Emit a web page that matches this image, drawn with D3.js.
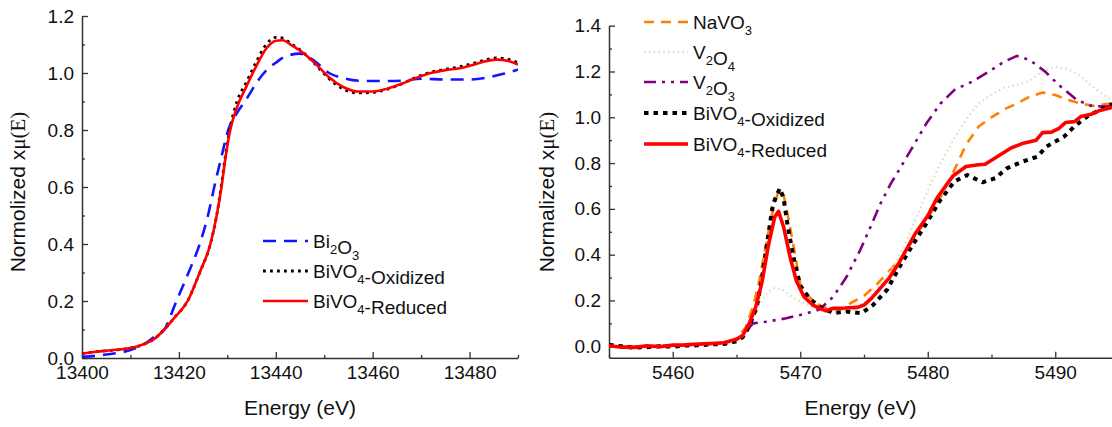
<!DOCTYPE html>
<html>
<head>
<meta charset="utf-8">
<script src="https://cdn.jsdelivr.net/npm/d3@7"></script>
<style>
  html, body { margin: 0; padding: 0; background: #fff; }
  svg { display: block; }
  text { font-family: "Liberation Sans", Arial, sans-serif; fill: #111; }
</style>
</head>
<body>
<svg id="chart" width="1112" height="427"></svg>
<script>
// ---------- Bi L3-edge (left panel) ----------
const biRefE  = [13400, 13405, 13410, 13413, 13415, 13417, 13419.5, 13422, 13424.3, 13426, 13427.3, 13428.7, 13430.2, 13432, 13434, 13436, 13438, 13440, 13442, 13445, 13448, 13451, 13454, 13458, 13462, 13466, 13470, 13475, 13480, 13484, 13487, 13490];
const biRefMu = [0.004, 0.012, 0.028, 0.05, 0.075, 0.1, 0.2, 0.3, 0.4, 0.5, 0.6, 0.7, 0.8, 0.86, 0.91, 0.965, 1.008, 1.036, 1.058, 1.068, 1.042, 1.0, 0.982, 0.972, 0.972, 0.973, 0.98, 0.977, 0.977, 0.985, 0.997, 1.012];

const biRedE  = [13400, 13403, 13406, 13410, 13413, 13415, 13417, 13419, 13421.8, 13424.3, 13426.5, 13427.8, 13428.8, 13429.6, 13430.6, 13432, 13434, 13436, 13438, 13440, 13441.5, 13443, 13446, 13449, 13451, 13454, 13457, 13460, 13463, 13466, 13469, 13472, 13475, 13478, 13481, 13483, 13485.5, 13488, 13490];
const biRedMu = [0.015, 0.022, 0.027, 0.035, 0.05, 0.068, 0.1, 0.14, 0.2, 0.3, 0.4, 0.5, 0.6, 0.7, 0.8, 0.88, 0.955, 1.025, 1.085, 1.113, 1.115, 1.1, 1.066, 1.019, 0.985, 0.95, 0.935, 0.935, 0.945, 0.962, 0.983, 1.0, 1.01, 1.017, 1.03, 1.04, 1.047, 1.042, 1.03];

const biOxE  = biRedE;
const biOxMu = [0.015, 0.022, 0.027, 0.035, 0.05, 0.068, 0.1, 0.14, 0.2, 0.3, 0.4, 0.5, 0.61, 0.71, 0.81, 0.9, 0.97, 1.04, 1.1, 1.125, 1.122, 1.105, 1.067, 1.015, 0.98, 0.943, 0.93, 0.932, 0.943, 0.962, 0.985, 1.003, 1.013, 1.022, 1.035, 1.045, 1.053, 1.048, 1.035];

const biXTicks = [13400, 13420, 13440, 13460, 13480];
const biYTicks = [0.0, 0.2, 0.4, 0.6, 0.8, 1.0, 1.2];

// ---------- V K-edge (right panel) ----------
const vRedE  = [5455, 5456, 5457, 5458, 5459, 5460, 5461, 5462, 5463, 5464, 5465, 5465.5, 5466, 5466.5, 5467, 5467.5, 5468, 5468.3, 5468.7, 5469.2, 5469.7, 5470.3, 5471, 5471.6, 5472, 5472.6, 5473.5, 5474.5, 5475, 5475.6, 5476.3, 5477, 5477.7, 5478.4, 5479, 5480, 5480.7, 5481.4, 5482, 5483, 5484, 5484.5, 5485.5, 5486.5, 5487.5, 5488.5, 5489, 5489.7, 5490.3, 5490.8, 5491.5, 5492, 5492.8, 5493.5, 5494.5, 5495];
const vRedMu = [0.002, -0.004, -0.005, 0.002, -0.002, 0.005, 0.006, 0.01, 0.012, 0.015, 0.03, 0.048, 0.1, 0.17, 0.28, 0.44, 0.565, 0.589, 0.52, 0.39, 0.285, 0.215, 0.18, 0.163, 0.155, 0.166, 0.167, 0.17, 0.18, 0.21, 0.255, 0.3, 0.36, 0.43, 0.49, 0.57, 0.645, 0.7, 0.745, 0.785, 0.793, 0.795, 0.83, 0.865, 0.887, 0.9, 0.933, 0.935, 0.952, 0.977, 0.981, 1.003, 1.013, 1.03, 1.044, 1.05];

const vOxE  = [5455, 5456, 5457, 5458, 5459, 5460, 5461, 5462, 5463, 5464, 5465, 5465.5, 5466, 5466.6, 5467, 5467.4, 5467.8, 5468.0, 5468.4, 5468.7, 5469, 5469.5, 5470, 5470.7, 5471.5, 5472.6, 5473.6, 5474.8, 5475.7, 5476.8, 5477.8, 5478.9, 5479.9, 5481, 5482.1, 5483.1, 5484.3, 5485.3, 5486.2, 5487.4, 5488.6, 5489.3, 5490, 5490.7, 5491.5, 5492.5, 5493.5, 5494.3, 5495];
const vOxMu = [0.006, 0.0, -0.006, -0.004, 0.0, -0.002, 0.003, 0.004, 0.008, 0.01, 0.022, 0.04, 0.087, 0.173, 0.3, 0.45, 0.6, 0.64, 0.69, 0.645, 0.53, 0.38, 0.265, 0.21, 0.173, 0.145, 0.152, 0.144, 0.18, 0.246, 0.348, 0.45, 0.537, 0.64, 0.72, 0.748, 0.716, 0.734, 0.777, 0.806, 0.828, 0.872, 0.894, 0.916, 0.96, 1.003, 1.032, 1.054, 1.06];

const naVO3E  = [5455, 5457, 5459, 5461, 5463, 5464, 5465, 5465.7, 5466.3, 5466.8, 5467.3, 5467.8, 5468.3, 5468.7, 5469.1, 5469.5, 5470, 5470.5, 5471.1, 5471.7, 5472.5, 5473.3, 5474, 5475, 5476, 5477, 5478, 5479, 5480, 5481, 5482, 5483, 5484, 5485, 5486, 5487, 5488, 5489, 5490, 5491, 5492, 5493, 5494, 5495];
const naVO3Mu = [0.0, -0.004, 0.0, 0.005, 0.01, 0.015, 0.035, 0.08, 0.173, 0.29, 0.44, 0.58, 0.68, 0.66, 0.55, 0.43, 0.27, 0.225, 0.195, 0.173, 0.16, 0.162, 0.19, 0.22, 0.27, 0.33, 0.39, 0.48, 0.56, 0.65, 0.76, 0.88, 0.96, 1.0, 1.035, 1.06, 1.09, 1.108, 1.097, 1.076, 1.06, 1.05, 1.058, 1.065];

const v2O4E  = [5455, 5458, 5461, 5463, 5464, 5465, 5465.5, 5466, 5466.5, 5467, 5467.5, 5468, 5468.5, 5469, 5469.5, 5470, 5471, 5472, 5473, 5474, 5475, 5476, 5477, 5478, 5479, 5480, 5481, 5482, 5483, 5484, 5485, 5486, 5487, 5488, 5489, 5490, 5491, 5492, 5493, 5494, 5495];
const v2O4Mu = [0.0, 0.0, 0.005, 0.01, 0.015, 0.03, 0.05, 0.09, 0.14, 0.2, 0.24, 0.255, 0.25, 0.23, 0.21, 0.195, 0.17, 0.155, 0.145, 0.15, 0.19, 0.25, 0.32, 0.42, 0.55, 0.68, 0.8, 0.9, 0.99, 1.06, 1.1, 1.13, 1.14, 1.16, 1.2, 1.22, 1.21, 1.18, 1.13, 1.09, 1.06];

const v2O3E  = [5455, 5458, 5461, 5463, 5464, 5465, 5465.5, 5466.3, 5467.3, 5468.9, 5470.5, 5471.5, 5472.6, 5473.6, 5474.7, 5475.5, 5476.3, 5477.1, 5477.9, 5478.6, 5479.9, 5481, 5482.1, 5483.5, 5485, 5486, 5487, 5488, 5489.2, 5490.3, 5491.7, 5492.8, 5493.9, 5495];
const v2O3Mu = [0.0, 0.0, 0.005, 0.01, 0.015, 0.03, 0.05, 0.10, 0.107, 0.122, 0.144, 0.16, 0.217, 0.30, 0.42, 0.52, 0.624, 0.71, 0.784, 0.85, 0.974, 1.06, 1.12, 1.156, 1.207, 1.243, 1.268, 1.25, 1.2, 1.14, 1.076, 1.05, 1.047, 1.05];

const vXTicks = [5460, 5470, 5480, 5490];
const vYTicks = [0.0, 0.2, 0.4, 0.6, 0.8, 1.0, 1.2, 1.4];

// ---------- drawing ----------
const svg = d3.select("#chart");
const fmt = d3.format(".1f");
const axisColor = "#333";

const zip = (E, M) => E.map((e, i) => [e, M[i]]);

function styleAxis(g) {
  g.selectAll(".domain").attr("stroke", axisColor).attr("stroke-width", 1.5);
  g.selectAll(".tick line").attr("stroke", axisColor).attr("stroke-width", 1.3);
  g.selectAll("text").attr("font-size", 19).attr("fill", "#111")
    .attr("font-family", '"Liberation Sans", Arial, sans-serif');
}

function drawPanel(p) {
  const x = d3.scaleLinear().domain(p.xDomain).range(p.xRange);
  const y = d3.scaleLinear().domain(p.yDomain).range(p.yRange);
  const root = svg.append("g");

  const clipId = p.id + "-clip";
  svg.append("defs").append("clipPath").attr("id", clipId)
    .append("rect")
    .attr("x", p.xRange[0]).attr("y", 0)
    .attr("width", Math.min(p.xRange[1], 1112) - p.xRange[0])
    .attr("height", p.yRange[0]);

  // minor ticks
  const minorX = d3.range(p.xDomain[0], p.xDomain[1] + 1e-9, p.xMinor)
    .filter(v => !p.xTicks.some(t => Math.abs(t - v) < 1e-6));
  const minorY = d3.range(p.yMinorStart, p.yDomain[1] + 1e-9, p.yMinor)
    .filter(v => !p.yTicks.some(t => Math.abs(t - v) < 1e-6));

  root.append("g").attr("transform", `translate(0,${p.yRange[0]})`)
    .call(d3.axisBottom(x).tickValues(minorX).tickSize(-3).tickFormat(""))
    .call(g => g.select(".domain").remove())
    .call(styleAxis);
  root.append("g").attr("transform", `translate(${p.xRange[0]},0)`)
    .call(d3.axisLeft(y).tickValues(minorY).tickSize(-3).tickFormat(""))
    .call(g => g.select(".domain").remove())
    .call(styleAxis);

  // major axes, ticks pointing inward
  root.append("g").attr("transform", `translate(0,${p.yRange[0]})`)
    .call(d3.axisBottom(x).tickValues(p.xTicks).tickSize(-6).tickSizeOuter(0)
      .tickPadding(8).tickFormat(d3.format("d")))
    .call(styleAxis);
  root.append("g").attr("transform", `translate(${p.xRange[0]},0)`)
    .call(d3.axisLeft(y).tickValues(p.yTicks).tickSize(-6).tickSizeOuter(0)
      .tickPadding(8).tickFormat(fmt))
    .call(styleAxis);

  // curves
  const line = d3.line().x(d => x(d[0])).y(d => y(d[1])).curve(p.curve);
  const plot = root.append("g").attr("clip-path", `url(#${clipId})`);
  p.series.forEach(s => {
    plot.append("path")
      .datum(zip(s.E, s.mu))
      .attr("fill", "none")
      .attr("stroke", s.color)
      .attr("stroke-width", s.width)
      .attr("stroke-dasharray", s.dash || null)
      .attr("stroke-linejoin", "round")
      .attr("d", line);
  });

  // legend
  const lg = root.append("g");
  p.legend.forEach((item, i) => {
    const s = p.series.find(d => d.key === item.key);
    const cy = p.legendY[i];
    lg.append("line")
      .attr("x1", p.legendX[0]).attr("x2", p.legendX[1])
      .attr("y1", cy).attr("y2", cy)
      .attr("stroke", s.color).attr("stroke-width", s.width)
      .attr("stroke-dasharray", s.dash || null);
    const t = lg.append("text").attr("x", p.legendX[2]).attr("y", cy + 7)
      .attr("font-size", 19);
    item.parts.forEach(part => {
      if (part.sub) {
        t.append("tspan").attr("font-size", 13).attr("dy", 6).text(part.sub);
        t.append("tspan").attr("dy", -6).text("");
      } else {
        t.append("tspan").text(part.t);
      }
    });
  });

  // axis titles
  root.append("text")
    .attr("x", (p.xRange[0] + p.xTitleRight) / 2).attr("y", 415)
    .attr("text-anchor", "middle").attr("font-size", 21)
    .text("Energy (eV)");
  const yt = root.append("text")
    .attr("transform", `translate(${p.yTitleX},${p.yTitleY}) rotate(-90)`)
    .attr("text-anchor", "middle").attr("font-size", 21);
  yt.append("tspan").text(p.yTitle + " x");
  yt.append("tspan").attr("font-family", '"Liberation Serif", "Times New Roman", serif')
    .text("\u03BC(E)");
}

drawPanel({
  id: "bi",
  xDomain: [13400, 13490], xRange: [82, 518],
  yDomain: [0, 1.2], yRange: [358, 16],
  xTicks: biXTicks, yTicks: biYTicks,
  xMinor: 10, yMinor: 0.1, yMinorStart: 0,
  curve: d3.curveMonotoneX,
  series: [
    { key: "ref", E: biRefE, mu: biRefMu, color: "#1414ff", width: 2.6, dash: "13,8" },
    { key: "ox",  E: biOxE,  mu: biOxMu,  color: "#000",    width: 2.8, dash: "2.8,4.2" },
    { key: "red", E: biRedE, mu: biRedMu, color: "#ff0000", width: 2.6 }
  ],
  legend: [
    { key: "ref", parts: [{ t: "Bi" }, { sub: "2" }, { t: "O" }, { sub: "3" }] },
    { key: "ox",  parts: [{ t: "BiVO" }, { sub: "4" }, { t: "-Oxidized" }] },
    { key: "red", parts: [{ t: "BiVO" }, { sub: "4" }, { t: "-Reduced" }] }
  ],
  legendX: [263, 308, 313], legendY: [241, 271, 301],
  xTitleRight: 518,
  yTitle: "Normolized", yTitleX: 25, yTitleY: 192
});

drawPanel({
  id: "v",
  xDomain: [5455, 5495], xRange: [609, 1119],
  yDomain: [-0.05, 1.4], yRange: [357.7, 25.7],
  xTicks: vXTicks, yTicks: vYTicks,
  xMinor: 5, yMinor: 0.1, yMinorStart: 0,
  curve: d3.curveLinear,
  series: [
    { key: "na",  E: naVO3E, mu: naVO3Mu, color: "#ff8000", width: 2.6, dash: "10,7" },
    { key: "v4",  E: v2O4E,  mu: v2O4Mu,  color: "#e2dfc2", width: 2.4, dash: "1.6,3.2" },
    { key: "v3",  E: v2O3E,  mu: v2O3Mu,  color: "#800080", width: 2.6, dash: "12,6,3,6,3,6" },
    { key: "ox",  E: vOxE,   mu: vOxMu,   color: "#000",    width: 4,   dash: "4.5,5" },
    { key: "red", E: vRedE,  mu: vRedMu,  color: "#ff0000", width: 3.6 }
  ],
  legend: [
    { key: "na",  parts: [{ t: "NaVO" }, { sub: "3" }] },
    { key: "v4",  parts: [{ t: "V" }, { sub: "2" }, { t: "O" }, { sub: "4" }] },
    { key: "v3",  parts: [{ t: "V" }, { sub: "2" }, { t: "O" }, { sub: "3" }] },
    { key: "ox",  parts: [{ t: "BiVO" }, { sub: "4" }, { t: "-Oxidized" }] },
    { key: "red", parts: [{ t: "BiVO" }, { sub: "4" }, { t: "-Reduced" }] }
  ],
  legendX: [644, 688, 693], legendY: [22, 52, 82, 113, 144],
  xTitleRight: 1112,
  yTitle: "Normalized", yTitleX: 554, yTitleY: 192
});
</script>
</body>
</html>
